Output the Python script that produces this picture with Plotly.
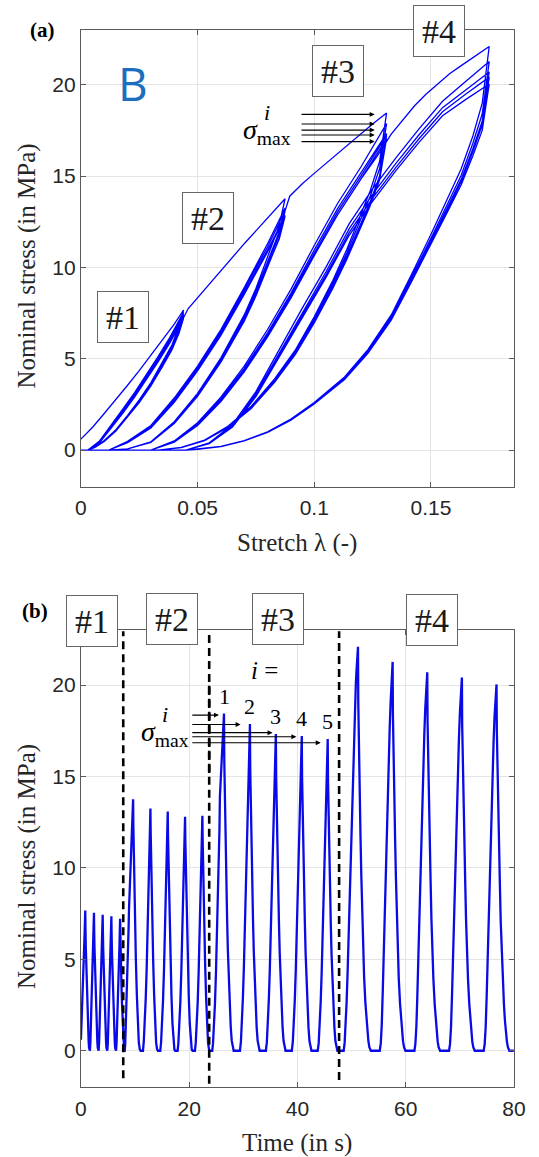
import plotly.graph_objects as go

# ---------------- data ----------------
RATE = 0.0547                         # stretch per second (triangular loading)
LAMBDA_MAX = [0.044, 0.0875, 0.131, 0.175]
PEAKS = [
    [7.67, 7.55, 7.44, 7.36, 7.22],
    [13.76, 13.25, 13.09, 12.80, 12.85],
    [18.45, 17.87, 17.33, 17.22, 17.05],
    [22.10, 21.27, 20.70, 20.42, 20.04],
]

# group #1
G1_FIRST_L = [0, 0.005, 0.01, 0.015, 0.02, 0.025, 0.03, 0.035, 0.04]
G1_FIRST_S = [0.6, 1.25, 2.0, 2.75, 3.55, 4.35, 5.2, 6.0, 6.9]
G1_RELOAD_L = [0, 0.003, 0.008, 0.013, 0.018, 0.023, 0.028, 0.033, 0.038]
G1_RELOAD_S = [
    [0, 0, 0.50, 1.35, 2.25, 3.15, 4.10, 5.10, 6.15],
    [0, 0, 0.45, 1.28, 2.15, 3.05, 4.00, 4.98, 6.02],
    [0, 0, 0.42, 1.22, 2.08, 2.97, 3.92, 4.90, 5.93],
    [0, 0, 0.40, 1.18, 2.02, 2.90, 3.84, 4.82, 5.84],
]
G1_UNLOAD_L = [0.042, 0.039, 0.035, 0.03, 0.025, 0.02, 0.015, 0.01, 0.006, 0.003, 0]
G1_UNLOAD_S = [
    [6.75, 5.75, 4.80, 3.70, 2.75, 1.90, 1.12, 0.52, 0.17, 0, 0],
    [6.65, 5.68, 4.74, 3.64, 2.70, 1.86, 1.09, 0.50, 0.16, 0, 0],
    [6.55, 5.60, 4.68, 3.59, 2.66, 1.83, 1.07, 0.49, 0.15, 0, 0],
    [6.48, 5.55, 4.63, 3.55, 2.63, 1.81, 1.05, 0.48, 0.15, 0, 0],
    [6.38, 5.48, 4.58, 3.51, 2.60, 1.79, 1.04, 0.47, 0.14, 0, 0],
]

# group #2
G2_FIRST_L = [0, 0.003, 0.008, 0.013, 0.018, 0.023, 0.028, 0.033, 0.038, 0.042,
              0.046, 0.05, 0.055, 0.06, 0.065, 0.07, 0.075, 0.08]
G2_FIRST_S = [0, 0, 0.40, 1.18, 2.02, 2.90, 3.84, 4.82, 5.84, 6.75,
              7.75, 8.35, 9.10, 9.85, 10.6, 11.3, 12.0, 12.7]
G2_RELOAD_L = [0, 0.012, 0.02, 0.03, 0.04, 0.05, 0.06, 0.07, 0.08]
G2_RELOAD_S = [
    [0, 0, 0.48, 1.35, 2.85, 4.60, 6.60, 8.90, 11.30],
    [0, 0, 0.45, 1.30, 2.76, 4.50, 6.48, 8.76, 11.12],
    [0, 0, 0.42, 1.25, 2.68, 4.40, 6.36, 8.62, 10.95],
    [0, 0, 0.40, 1.21, 2.62, 4.33, 6.28, 8.52, 10.85],
]
G2_UNLOAD_L = [0.085, 0.08, 0.075, 0.07, 0.06, 0.05, 0.04, 0.03, 0.02, 0.012, 0]
G2_UNLOAD_S = [
    [12.30, 10.60, 8.85, 7.40, 5.05, 3.10, 1.55, 0.45, 0.07, 0, 0],
    [11.95, 10.35, 8.68, 7.26, 4.96, 3.04, 1.52, 0.44, 0.07, 0, 0],
    [11.80, 10.22, 8.58, 7.18, 4.90, 3.00, 1.50, 0.43, 0.06, 0, 0],
    [11.55, 10.05, 8.47, 7.10, 4.85, 2.97, 1.48, 0.42, 0.06, 0, 0],
    [11.60, 10.02, 8.43, 7.05, 4.81, 2.94, 1.46, 0.42, 0.06, 0, 0],
]

# group #3
G3_FIRST_L = [0, 0.012, 0.02, 0.03, 0.04, 0.05, 0.06, 0.07, 0.08, 0.085, 0.0895,
              0.095, 0.1, 0.105, 0.11, 0.115, 0.12, 0.125]
G3_FIRST_S = [0, 0, 0.40, 1.21, 2.62, 4.33, 6.28, 8.52, 10.85, 12.1, 13.9,
              14.6, 15.15, 15.7, 16.2, 16.75, 17.3, 17.85]
G3_RELOAD_L = [0, 0.03, 0.04, 0.05, 0.06, 0.07, 0.08, 0.09, 0.1, 0.11, 0.12]
G3_RELOAD_S = [
    [0, 0, 0.50, 1.50, 2.90, 4.60, 6.60, 8.80, 11.20, 13.50, 15.50],
    [0, 0, 0.47, 1.43, 2.80, 4.46, 6.42, 8.58, 10.95, 13.22, 15.18],
    [0, 0, 0.45, 1.38, 2.72, 4.36, 6.30, 8.44, 10.78, 13.04, 15.00],
    [0, 0, 0.43, 1.34, 2.66, 4.28, 6.20, 8.32, 10.64, 12.88, 14.84],
]
G3_UNLOAD_L = [0.128, 0.124, 0.119, 0.114, 0.108, 0.1, 0.092, 0.083, 0.073, 0.063,
               0.053, 0.043, 0.033, 0]
G3_UNLOAD_S = [
    [15.80, 14.20, 12.60, 11.00, 9.30, 7.30, 5.50, 3.90, 2.40, 1.30, 0.55, 0.15, 0, 0],
    [15.40, 13.90, 12.35, 10.80, 9.14, 7.18, 5.41, 3.83, 2.36, 1.28, 0.54, 0.15, 0, 0],
    [15.00, 13.60, 12.12, 10.62, 9.00, 7.07, 5.33, 3.77, 2.32, 1.26, 0.53, 0.14, 0, 0],
    [14.90, 13.48, 12.00, 10.52, 8.92, 7.01, 5.28, 3.74, 2.30, 1.25, 0.52, 0.14, 0, 0],
    [14.78, 13.38, 11.92, 10.45, 8.86, 6.96, 5.25, 3.71, 2.28, 1.24, 0.52, 0.14, 0, 0],
]

# group #4
G4_FIRST_L = [0, 0.03, 0.04, 0.05, 0.06, 0.07, 0.08, 0.09, 0.1, 0.11, 0.12, 0.127,
              0.133, 0.138, 0.143, 0.148, 0.153, 0.158, 0.163, 0.168]
G4_FIRST_S = [0, 0, 0.43, 1.34, 2.66, 4.28, 6.20, 8.32, 10.64, 12.88, 14.84, 16.1,
              17.3, 18.1, 18.85, 19.5, 20.05, 20.6, 21.05, 21.5]
G4_RELOAD_L = [0, 0.045, 0.055, 0.065, 0.075, 0.085, 0.095, 0.105, 0.115, 0.125,
               0.135, 0.145, 0.155, 0.165]
G4_RELOAD_S = [
    [0, 0, 0.40, 1.40, 3.20, 5.50, 7.80, 10.00, 12.40, 14.30, 16.00, 17.60, 19.10, 20.20],
    [0, 0, 0.38, 1.34, 3.08, 5.32, 7.58, 9.75, 12.12, 14.00, 15.70, 17.28, 18.75, 19.75],
    [0, 0, 0.36, 1.29, 3.00, 5.20, 7.42, 9.58, 11.92, 13.80, 15.48, 17.06, 18.52, 19.50],
    [0, 0, 0.35, 1.26, 2.93, 5.10, 7.30, 9.44, 11.76, 13.62, 15.30, 16.86, 18.30, 19.20],
]
G4_UNLOAD_L = [0.172, 0.168, 0.163, 0.157, 0.15, 0.142, 0.133, 0.123, 0.113, 0.1,
               0.09, 0.08, 0.07, 0.06, 0.05, 0.045, 0]
G4_UNLOAD_S = [
    [19.00, 17.20, 15.40, 13.70, 11.80, 9.70, 7.40, 5.50, 4.00, 2.60, 1.70, 1.00, 0.52, 0.20, 0.04, 0, 0],
    [18.40, 16.80, 15.05, 13.42, 11.58, 9.54, 7.29, 5.43, 3.95, 2.57, 1.68, 0.99, 0.51, 0.20, 0.04, 0, 0],
    [18.00, 16.50, 14.82, 13.24, 11.43, 9.43, 7.21, 5.37, 3.91, 2.55, 1.66, 0.98, 0.51, 0.19, 0.04, 0, 0],
    [17.80, 16.35, 14.70, 13.14, 11.35, 9.36, 7.16, 5.34, 3.89, 2.54, 1.65, 0.97, 0.50, 0.19, 0.04, 0, 0],
    [17.50, 16.12, 14.53, 13.01, 11.25, 9.29, 7.11, 5.30, 3.86, 2.52, 1.64, 0.97, 0.50, 0.19, 0.04, 0, 0],
]

# annotation data
DASH_T = [7.82, 23.7, 23.7, 47.7]
DASH_LO = [-1.5, 15.2, -1.8, -1.6]
DASH_HI = [22.95, 22.95, 20.1, 22.95]
ARROW_A_LEVELS = [18.38, 17.85, 17.52, 17.25, 16.89]
ARROW_A_TAIL, ARROW_A_HEAD = 0.0939, 0.1259
ARROW_B_LEVELS = [18.36, 17.85, 17.40, 17.18, 16.85]
ARROW_B_TAIL = 20.3
ARROW_B_HEADS = [25.5, 29.5, 35.4, 39.8, 44.3]
CYCLE_NUM_T = [26.46, 31.07, 35.87, 40.67, 45.47]
CYCLE_NUM_S = [19.37, 18.82, 18.27, 18.18, 18.0]
GROUP_LABELS = ["#1", "#2", "#3", "#4"]
BOX_A_X = [0.0182, 0.0544, 0.1103, 0.1534]
BOX_A_Y = [7.28, 12.71, 20.77, 22.96]
BOX_B_X = [1.99, 16.77, 36.46, 64.85]
BOX_B_Y_DOMAIN = [1.021, 1.025, 1.024, 1.022]   # fraction of panel (b) height

# ---------------- assemble cycles ----------------
GROUPS = [
    (G1_FIRST_L, G1_FIRST_S, G1_RELOAD_L, G1_RELOAD_S, G1_UNLOAD_L, G1_UNLOAD_S),
    (G2_FIRST_L, G2_FIRST_S, G2_RELOAD_L, G2_RELOAD_S, G2_UNLOAD_L, G2_UNLOAD_S),
    (G3_FIRST_L, G3_FIRST_S, G3_RELOAD_L, G3_RELOAD_S, G3_UNLOAD_L, G3_UNLOAD_S),
    (G4_FIRST_L, G4_FIRST_S, G4_RELOAD_L, G4_RELOAD_S, G4_UNLOAD_L, G4_UNLOAD_S),
]

lam_all, sig_all, t_all = [], [], []
t0 = 0.0
for g, (fl, fs, rl, rs, ul, us) in enumerate(GROUPS):
    lmax = LAMBDA_MAX[g]
    for c in range(5):
        if c == 0:
            load_l, load_s = fl, fs
        else:
            load_l, load_s = rl, rs[c - 1]
        for l, s in zip(load_l, load_s):
            lam_all.append(l); sig_all.append(s); t_all.append(t0 + l / RATE)
        lam_all.append(lmax); sig_all.append(PEAKS[g][c]); t_all.append(t0 + lmax / RATE)
        for l, s in zip(ul, us[c]):
            lam_all.append(l); sig_all.append(s); t_all.append(t0 + (2 * lmax - l) / RATE)
        t0 += 2 * lmax / RATE

# ---------------- figure ----------------
W, H = 539, 1157
X0, X1 = 77.5, 525.5
A_TOP, A_BOT = 30.0, 486.6
B_TOP, B_BOT = 630.3, 1087.3

fig = go.Figure()
fig.add_trace(go.Scatter(x=lam_all, y=sig_all, mode="lines",
                         line=dict(color="#0000ff", width=1.3),
                         xaxis="x", yaxis="y", showlegend=False, hoverinfo="skip"))
fig.add_trace(go.Scatter(x=t_all, y=sig_all, mode="lines",
                         line=dict(color="#0a0ae6", width=2.3),
                         xaxis="x2", yaxis="y2", showlegend=False, hoverinfo="skip"))

dx, dy = [], []
for t, lo, hi in zip(DASH_T, DASH_LO, DASH_HI):
    dx += [t, t, None]
    dy += [lo, hi, None]
fig.add_trace(go.Scatter(x=dx, y=dy, mode="lines",
                         line=dict(color="black", width=2.6, dash="8px,5px"),
                         xaxis="x2", yaxis="y2", showlegend=False, hoverinfo="skip"))

axis_common = dict(showline=True, linecolor="#5a5a5a", linewidth=1, mirror="ticks",
                   ticks="inside", ticklen=5, tickcolor="#5a5a5a",
                   showgrid=True, gridcolor="#e4e4e4", gridwidth=1, zeroline=False,
                   tickfont=dict(family="Liberation Sans", size=21, color="#262626"))

fig.update_layout(
    width=W, height=H, margin=dict(l=0, r=0, t=0, b=0),
    paper_bgcolor="white", plot_bgcolor="white", showlegend=False,
    xaxis=dict(domain=[X0 / W, X1 / W], anchor="y", range=[0, 0.1856],
               tickvals=[0, 0.05, 0.1, 0.15], ticktext=["0", "0.05", "0.1", "0.15"],
               ticklabelstandoff=2, **axis_common),
    yaxis=dict(domain=[1 - A_BOT / H, 1 - A_TOP / H], anchor="x", range=[-2, 23],
               tickvals=[0, 5, 10, 15, 20], ticklabelstandoff=0, **axis_common),
    xaxis2=dict(domain=[X0 / W, X1 / W], anchor="y2", range=[0, 80],
                tickvals=[0, 20, 40, 60, 80], ticklabelstandoff=2, **axis_common),
    yaxis2=dict(domain=[1 - B_BOT / H, 1 - B_TOP / H], anchor="x2", range=[-2, 23],
                tickvals=[0, 5, 10, 15, 20], ticklabelstandoff=0, **axis_common),
)

serif = "Liberation Serif"
C = dict(xanchor="center", yanchor="middle", showarrow=False)
ann = []
# axis titles
ann.append(dict(text="Stretch λ (-)", x=(X0 + X1) / 2 / W, y=1 - 542.8 / H, xref="paper", yref="paper",
                font=dict(family=serif, size=25, color="#262626"), **C))
ann.append(dict(text="Time (in s)", x=(X0 + X1) / 2 / W, y=1 - 1142.5 / H, xref="paper", yref="paper",
                font=dict(family=serif, size=25, color="#262626"), **C))
for yc in [(A_TOP + A_BOT) / 2 + 8, (B_TOP + B_BOT) / 2 + 8]:
    ann.append(dict(text="Nominal stress (in MPa)", x=22 / W, y=1 - yc / H, xref="paper", yref="paper",
                    textangle=-90, font=dict(family=serif, size=25, color="#262626"), **C))
# panel letters
ann.append(dict(text="<b>(a)</b>", x=38 / W, y=1 - 30 / H, xref="paper", yref="paper",
                font=dict(family=serif, size=21, color="black"), **C))
ann.append(dict(text="<b>(b)</b>", x=29.5 / W, y=1 - 611 / H, xref="paper", yref="paper",
                font=dict(family=serif, size=21, color="black"), **C))
# "B"
ann.append(dict(text="B", x=0.0223, y=20.1, xref="x", yref="y",
                font=dict(family="Open Sans", size=46, color="#1a6fbf"), **C))
# group boxes
box_style = dict(font=dict(family=serif, size=34, color="#1a1a1a"),
                 bordercolor="#666666", borderwidth=1, borderpad=3, bgcolor="white",
                 width=44, height=44)
for lab, bx, by in zip(GROUP_LABELS, BOX_A_X, BOX_A_Y):
    ann.append(dict(text=lab, x=bx, y=by, xref="x", yref="y", **box_style, **C))
for lab, bx, by in zip(GROUP_LABELS, BOX_B_X, BOX_B_Y_DOMAIN):
    ann.append(dict(text=lab, x=bx, y=by, xref="x2", yref="y2 domain", **box_style, **C))
# sigma_max labels
for (xs, ys, xi, yi, xr, yr) in [(0.0688, 17.45, 0.0798, 18.5, "x", "y"),
                                 (10.76, 17.38, 15.6, 18.4, "x2", "y2")]:
    ann.append(dict(text="<i>σ</i><sub>max</sub>", x=xs, y=ys, xref=xr, yref=yr,
                    xanchor="left", yanchor="middle", showarrow=False,
                    font=dict(family=serif, size=28, color="black")))
    ann.append(dict(text="<i>i</i>", x=xi, y=yi, xref=xr, yref=yr,
                    font=dict(family=serif, size=22, color="black"), **C))
# arrows
for lev in ARROW_A_LEVELS:
    ann.append(dict(x=ARROW_A_HEAD, y=lev, ax=ARROW_A_TAIL, ay=lev, xref="x", yref="y",
                    axref="x", ayref="y", text="", showarrow=True, arrowhead=2,
                    arrowsize=0.9, arrowwidth=1.1, arrowcolor="black"))
for lev, head in zip(ARROW_B_LEVELS, ARROW_B_HEADS):
    ann.append(dict(x=head, y=lev, ax=ARROW_B_TAIL, ay=lev, xref="x2", yref="y2",
                    axref="x2", ayref="y2", text="", showarrow=True, arrowhead=2,
                    arrowsize=0.9, arrowwidth=1.1, arrowcolor="black"))
# "i =" and cycle numbers
ann.append(dict(text="<i>i</i> =", x=34.0, y=20.8, xref="x2", yref="y2",
                font=dict(family=serif, size=25, color="black"), **C))
for k, (tt, ss) in enumerate(zip(CYCLE_NUM_T, CYCLE_NUM_S)):
    ann.append(dict(text=str(k + 1), x=tt, y=ss, xref="x2", yref="y2",
                    font=dict(family=serif, size=22, color="black"), **C))

fig.update_layout(annotations=ann)
fig.write_html("out.html", config={"displayModeBar": False},
               post_script="document.body.style.margin='0px';document.body.style.overflow='hidden';")
